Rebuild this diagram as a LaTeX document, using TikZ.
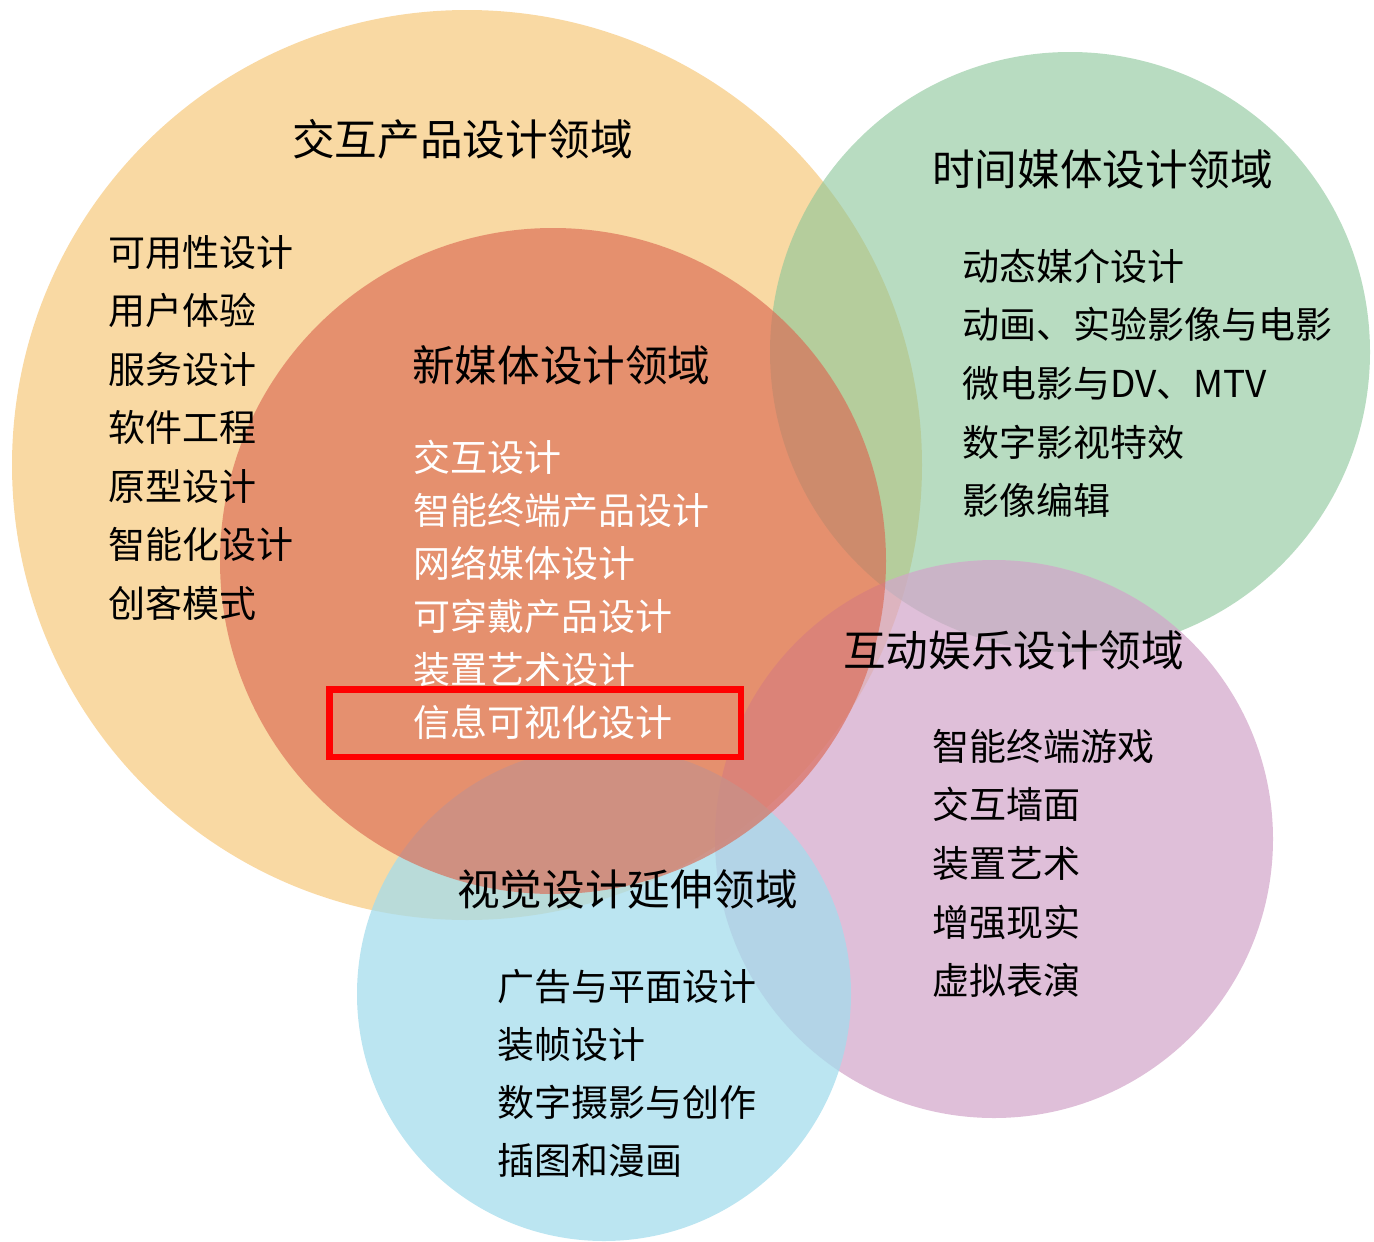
\documentclass[tikz,border=0pt]{standalone}
\usepackage{fontspec}
\setmainfont{Noto Sans CJK SC}
\definecolor{cOrange}{RGB}{249,217,163}
\definecolor{cGreen}{RGB}{137,197,152}
\definecolor{cPink}{RGB}{211,166,202}
\definecolor{cBlue}{RGB}{164,220,236}
\definecolor{cRed}{RGB}{219,105,83}
\definecolor{cRedMix}{RGB}{229,144,111}
\begin{document}
\begin{tikzpicture}[x=1pt,y=-1pt,
  zone/.style={circle, inner sep=0pt, draw=none},
  ttl/.style={anchor=base west, inner sep=0pt, font=\fontsize{42.6}{42.6}\selectfont, text=black},
  itm/.style={anchor=base west, inner sep=0pt, font=\fontsize{37}{37}\selectfont, text=black},
  witm/.style={itm, text=white},
  hlbox/.style={draw=red, line width=6.5pt, fill=cRedMix, inner sep=0pt}]
\useasboundingbox (0,0) rectangle (1374,1242);
% circles
\node[zone, fill=cOrange, minimum size=910pt] (orange) at (467,465) {};
\node[zone, fill=cGreen, fill opacity=0.6, minimum size=600pt] (green) at (1070,352) {};
\node[zone, fill=cPink, fill opacity=0.72, minimum size=558pt] (pink) at (994,839) {};
\node[zone, fill=cBlue, fill opacity=0.75, minimum size=494pt] (blue) at (604,994) {};
\node[zone, fill=cRed, fill opacity=0.65, minimum size=666pt] (red) at (553,561) {};
% titles
\node[ttl] (tOrange) at (292,155) {交互产品设计领域};
\node[ttl] (tGreen) at (932,185) {时间媒体设计领域};
\node[ttl] (tRed) at (412,381) {新媒体设计领域};
\node[ttl] (tPink) at (843,666) {互动娱乐设计领域};
\node[ttl] (tBlue) at (457,905) {视觉设计延伸领域};
% items
\foreach \t [count=\i] in {可用性设计,用户体验,服务设计,软件工程,原型设计,智能化设计,创客模式}
  \node[itm] (o\i) at (108,{266+58.5*(\i-1)}) {\t};
\foreach \t [count=\i] in {动态媒介设计,动画、实验影像与电影,微电影与DV、MTV,数字影视特效,影像编辑}
  \node[itm] (g\i) at (962,{280+58.7*(\i-1)}) {\t};
\foreach \t [count=\i] in {智能终端游戏,交互墙面,装置艺术,增强现实,虚拟表演}
  \node[itm] (p\i) at (932,{760+58.7*(\i-1)}) {\t};
\foreach \t [count=\i] in {广告与平面设计,装帧设计,数字摄影与创作,插图和漫画}
  \node[itm] (b\i) at (497,{1000+58.3*(\i-1)}) {\t};
\foreach \t [count=\i] in {交互设计,智能终端产品设计,网络媒体设计,可穿戴产品设计,装置艺术设计}
  \node[witm] (r\i) at (413,{471+53*(\i-1)}) {\t};
% highlight box
\node[hlbox, minimum width=411.5pt, minimum height=67.5pt] (hl) at (535,723) {};
\node[witm] (r6) at (413,736) {信息可视化设计};
\end{tikzpicture}
\end{document}
